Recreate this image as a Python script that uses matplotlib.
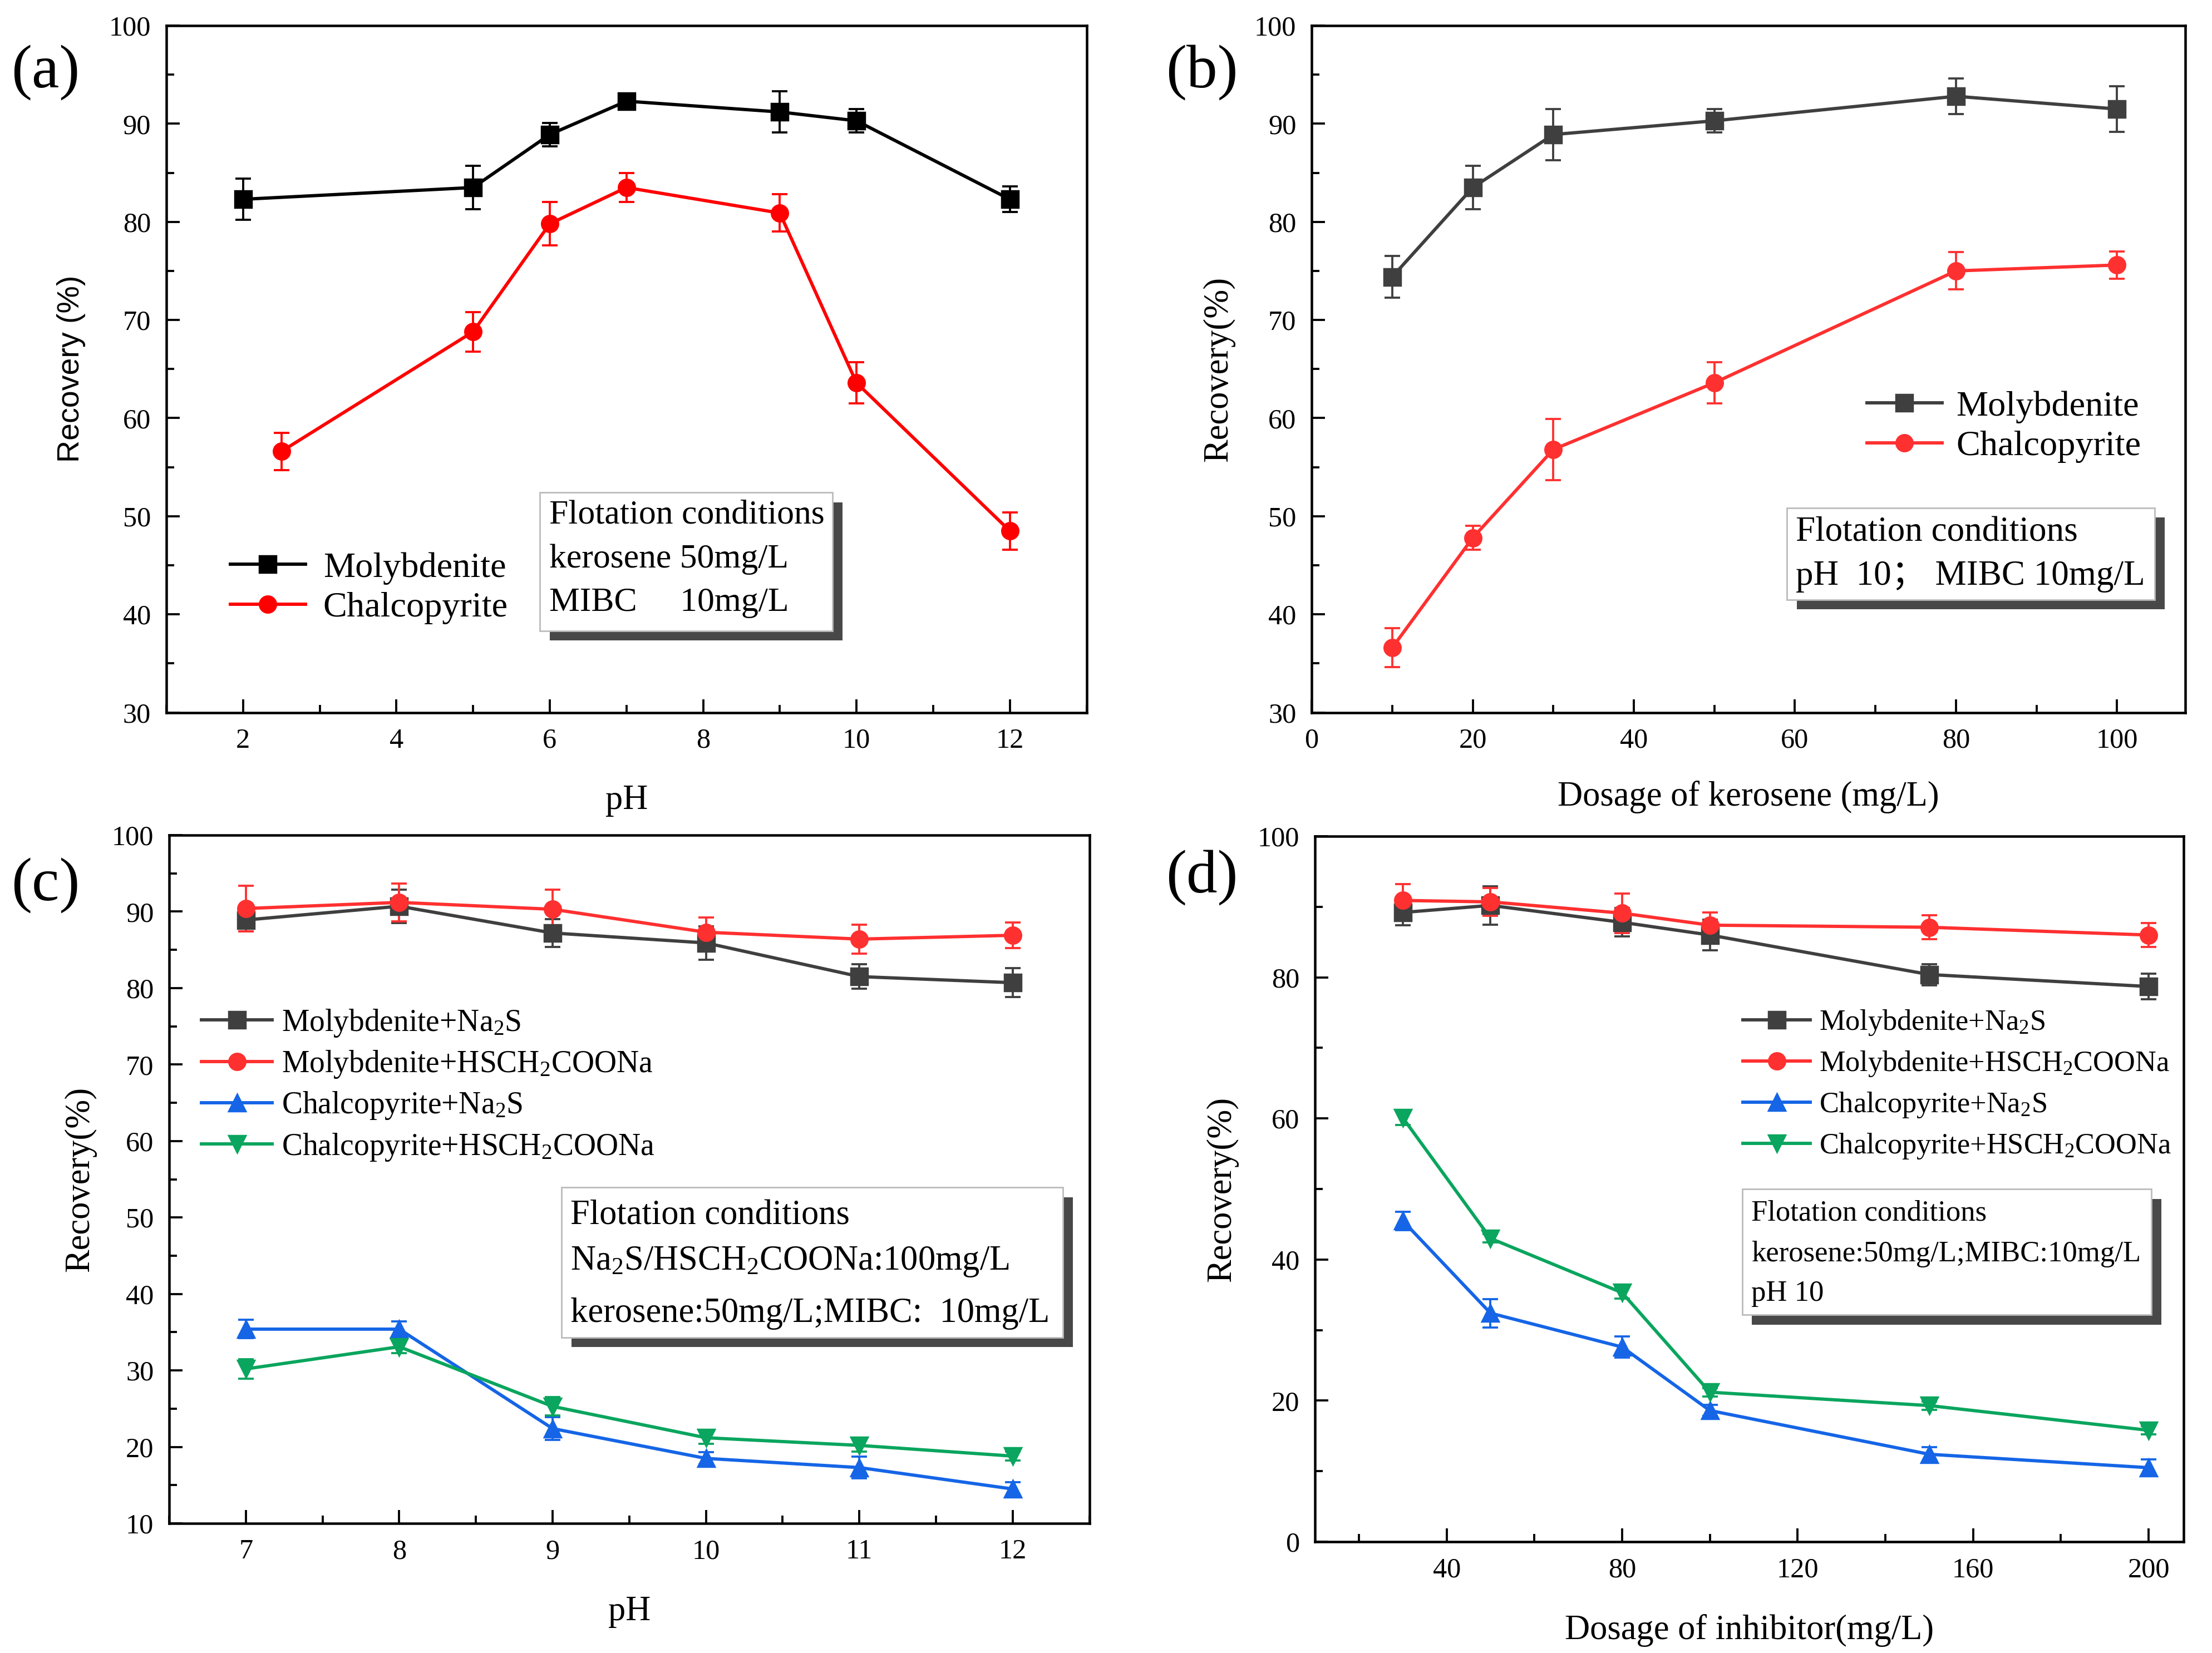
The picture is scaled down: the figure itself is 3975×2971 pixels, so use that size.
import numpy as np
import matplotlib
matplotlib.use("Agg")
import matplotlib.pyplot as plt
from matplotlib.patches import Rectangle
from matplotlib.ticker import MultipleLocator

plt.rcParams['font.family'] = ['Liberation Serif', 'Noto Sans CJK SC']
plt.rcParams['mathtext.fontset'] = 'custom'
plt.rcParams['mathtext.rm'] = 'Liberation Serif'
plt.rcParams['mathtext.it'] = 'Liberation Serif:italic'

# (a) recovery vs pH
ph_mo_a = [2, 5, 6, 7, 9, 10, 12]
mo_a = [82.3, 83.5, 88.9, 92.3, 91.2, 90.3, 82.3]
mo_a_err = [2.1, 2.2, 1.2, 0.8, 2.1, 1.2, 1.3]
ph_ch_a = [2.5, 5, 6, 7, 9, 10, 12]
ch_a = [56.6, 68.8, 79.8, 83.5, 80.9, 63.6, 48.5]
ch_a_err = [1.9, 2.0, 2.2, 1.5, 1.9, 2.1, 1.9]

# (b) recovery vs kerosene dosage
kero = [10, 20, 30, 50, 80, 100]
mo_b = [74.4, 83.5, 88.9, 90.3, 92.8, 91.5]
mo_b_err = [2.1, 2.2, 2.6, 1.2, 1.8, 2.3]
ch_b = [36.6, 47.8, 56.8, 63.6, 75.0, 75.6]
ch_b_err = [2.0, 1.2, 3.1, 2.1, 1.9, 1.4]

# (c) recovery vs pH with inhibitors
ph_c = [7, 8, 9, 10, 11, 12]
mo_na2s_c = [88.9, 90.7, 87.2, 85.9, 81.5, 80.7]
mo_na2s_c_err = [1.5, 2.2, 1.8, 2.2, 1.6, 1.9]
mo_hs_c = [90.4, 91.2, 90.3, 87.3, 86.4, 86.9]
mo_hs_c_err = [3.0, 2.5, 2.6, 1.9, 1.9, 1.7]
ch_na2s_c = [35.4, 35.4, 22.4, 18.5, 17.3, 14.5]
ch_na2s_c_err = [1.2, 1.0, 1.5, 0.8, 1.4, 0.9]
ch_hs_c = [30.2, 33.1, 25.3, 21.2, 20.2, 18.8]
ch_hs_c_err = [1.3, 0.8, 1.2, 0.8, 0.8, 0.6]

# (d) recovery vs inhibitor dosage
dose = [30, 50, 80, 100, 150, 200]
mo_na2s_d = [89.2, 90.2, 87.8, 86.0, 80.4, 78.7]
mo_na2s_d_err = [1.8, 2.7, 2.0, 2.2, 1.5, 1.8]
mo_hs_d = [90.9, 90.7, 89.1, 87.4, 87.1, 86.0]
mo_hs_d_err = [2.3, 2.0, 2.8, 1.8, 1.7, 1.7]
ch_na2s_d = [45.5, 32.4, 27.6, 18.6, 12.4, 10.5]
ch_na2s_d_err = [1.3, 2.0, 1.5, 0.8, 1.0, 1.2]
ch_hs_d = [60.1, 43.0, 35.3, 21.2, 19.3, 15.8]
ch_hs_d_err = [1.0, 0.6, 0.8, 0.6, 0.6, 0.6]

GRAY = '#3f3f3f'
RED = '#ff3030'
BLUE = '#1565e6'
GREEN = '#0aa55e'

fig = plt.figure(figsize=(15.9, 11.884), dpi=250)
ax_a = fig.add_axes([0.0752, 0.569, 0.416, 0.4155])
ax_b = fig.add_axes([0.593, 0.569, 0.395, 0.4155])
ax_c = fig.add_axes([0.0765, 0.0784, 0.416, 0.4164])
ax_d = fig.add_axes([0.5945, 0.0673, 0.3927, 0.4268])


def series(ax, x, y, err, color, marker, label, ms=8.5):
    c = ax.errorbar(x, y, yerr=err, color=color, marker=marker, ms=ms, lw=1.7,
                    elinewidth=1.1, capsize=4, capthick=1.1)
    c[0].set_label(label)
    return c[0]


def style(ax, xlim, ylim, xmaj, xmin, ymaj, ymin, tick_fs=14.5):
    ax.set_xlim(*xlim)
    ax.set_ylim(*ylim)
    ax.xaxis.set_major_locator(MultipleLocator(xmaj))
    ax.xaxis.set_minor_locator(MultipleLocator(xmin))
    ax.yaxis.set_major_locator(MultipleLocator(ymaj))
    ax.yaxis.set_minor_locator(MultipleLocator(ymin))
    ax.tick_params(which='both', direction='in', top=False, right=False, labelsize=tick_fs,
                   labelfontfamily='Liberation Serif')
    ax.tick_params(which='major', length=7, width=1.1, pad=8)
    ax.tick_params(which='minor', length=4, width=1.1)
    for s in ax.spines.values():
        s.set_linewidth(1.3)


def cond_box(ax, x0, y0, x1, y1, lines, ys, fs, dx=0.011, dy=0.014):
    ax.add_patch(Rectangle((x0 + dx, y0 - dy), x1 - x0, y1 - y0, transform=ax.transAxes,
                           facecolor='#484848', edgecolor='none', zorder=5))
    ax.add_patch(Rectangle((x0, y0), x1 - x0, y1 - y0, transform=ax.transAxes,
                           facecolor='white', edgecolor='#bbbbbb', lw=0.8, zorder=6))
    for t, yy in zip(lines, ys):
        ax.text(x0 + 0.01, yy, t, transform=ax.transAxes, fontsize=fs, va='center',
                ha='left', zorder=7)


# panel (a)
h = [series(ax_a, ph_mo_a, mo_a, mo_a_err, 'black', 's', 'Molybdenite'),
     series(ax_a, ph_ch_a, ch_a, ch_a_err, '#ff0000', 'o', 'Chalcopyrite')]
style(ax_a, (1, 13), (30, 100), 2, 1, 10, 5)
ax_a.set_xlabel('pH', fontsize=18, labelpad=16)
ax_a.set_ylabel('Recovery (%)', fontsize=16, family='Liberation Sans', labelpad=12)
ax_a.legend(handles=h, loc='upper left', bbox_to_anchor=(0.05, 0.26), frameon=False,
            fontsize=18.5, handlelength=2.1, handletextpad=0.5, labelspacing=0.2, borderpad=0)
cond_box(ax_a, 0.406, 0.119, 0.724, 0.320,
         ['Flotation conditions', 'kerosene 50mg/L', 'MIBC     10mg/L'],
         [0.287, 0.223, 0.160], 17.8)

# panel (b)
h = [series(ax_b, kero, mo_b, mo_b_err, GRAY, 's', 'Molybdenite'),
     series(ax_b, kero, ch_b, ch_b_err, RED, 'o', 'Chalcopyrite')]
style(ax_b, (0, 108.5), (30, 100), 20, 10, 10, 5)
ax_b.set_xlabel('Dosage of kerosene (mg/L)', fontsize=18, labelpad=14)
ax_b.set_ylabel('Recovery(%)', fontsize=18, labelpad=10)
ax_b.legend(handles=h, loc='upper left', bbox_to_anchor=(0.615, 0.495), frameon=False,
            fontsize=18.5, handlelength=2.1, handletextpad=0.4, labelspacing=0.2, borderpad=0)
cond_box(ax_b, 0.544, 0.164, 0.965, 0.298,
         ['Flotation conditions', 'pH  10； MIBC 10mg/L'],
         [0.262, 0.198], 18.2)

# panel (c)
h = [series(ax_c, ph_c, mo_na2s_c, mo_na2s_c_err, GRAY, 's', 'Molybdenite+Na$_2$S'),
     series(ax_c, ph_c, mo_hs_c, mo_hs_c_err, RED, 'o', 'Molybdenite+HSCH$_2$COONa'),
     series(ax_c, ph_c, ch_na2s_c, ch_na2s_c_err, BLUE, '^', 'Chalcopyrite+Na$_2$S'),
     series(ax_c, ph_c, ch_hs_c, ch_hs_c_err, GREEN, 'v', 'Chalcopyrite+HSCH$_2$COONa')]
style(ax_c, (6.5, 12.5), (10, 100), 1, 0.5, 10, 5)
ax_c.set_xlabel('pH', fontsize=18, labelpad=16)
ax_c.set_ylabel('Recovery(%)', fontsize=18, labelpad=8)
ax_c.legend(handles=h, loc='upper left', bbox_to_anchor=(0.018, 0.772), frameon=False,
            fontsize=16, handlelength=2.3, handletextpad=0.3, labelspacing=0.33, borderpad=0)
cond_box(ax_c, 0.426, 0.270, 0.971, 0.488,
         ['Flotation conditions', 'Na$_2$S/HSCH$_2$COONa:100mg/L', 'kerosene:50mg/L;MIBC:  10mg/L'],
         [0.447, 0.380, 0.305], 18)

# panel (d)
h = [series(ax_d, dose, mo_na2s_d, mo_na2s_d_err, GRAY, 's', 'Molybdenite+Na$_2$S'),
     series(ax_d, dose, mo_hs_d, mo_hs_d_err, RED, 'o', 'Molybdenite+HSCH$_2$COONa'),
     series(ax_d, dose, ch_na2s_d, ch_na2s_d_err, BLUE, '^', 'Chalcopyrite+Na$_2$S'),
     series(ax_d, dose, ch_hs_d, ch_hs_d_err, GREEN, 'v', 'Chalcopyrite+HSCH$_2$COONa')]
style(ax_d, (10, 208), (0, 100), 40, 20, 20, 10)
ax_d.set_xlabel('Dosage of inhibitor(mg/L)', fontsize=18, labelpad=16)
ax_d.set_ylabel('Recovery(%)', fontsize=18, labelpad=10)
ax_d.legend(handles=h, loc='upper left', bbox_to_anchor=(0.476, 0.777), frameon=False,
            fontsize=15.1, handlelength=2.3, handletextpad=0.3, labelspacing=0.42, borderpad=0)
cond_box(ax_d, 0.492, 0.322, 0.963, 0.500,
         ['Flotation conditions', 'kerosene:50mg/L;MIBC:10mg/L', 'pH 10'],
         [0.466, 0.408, 0.352], 15.2)

# panel letters
for lab, x, y in [('(a)', 0.005, 0.956), ('(b)', 0.527, 0.956),
                  ('(c)', 0.005, 0.464), ('(d)', 0.527, 0.469)]:
    fig.text(x, y, lab, fontsize=32, va='center', ha='left')

fig.savefig('out.png', dpi=250)
